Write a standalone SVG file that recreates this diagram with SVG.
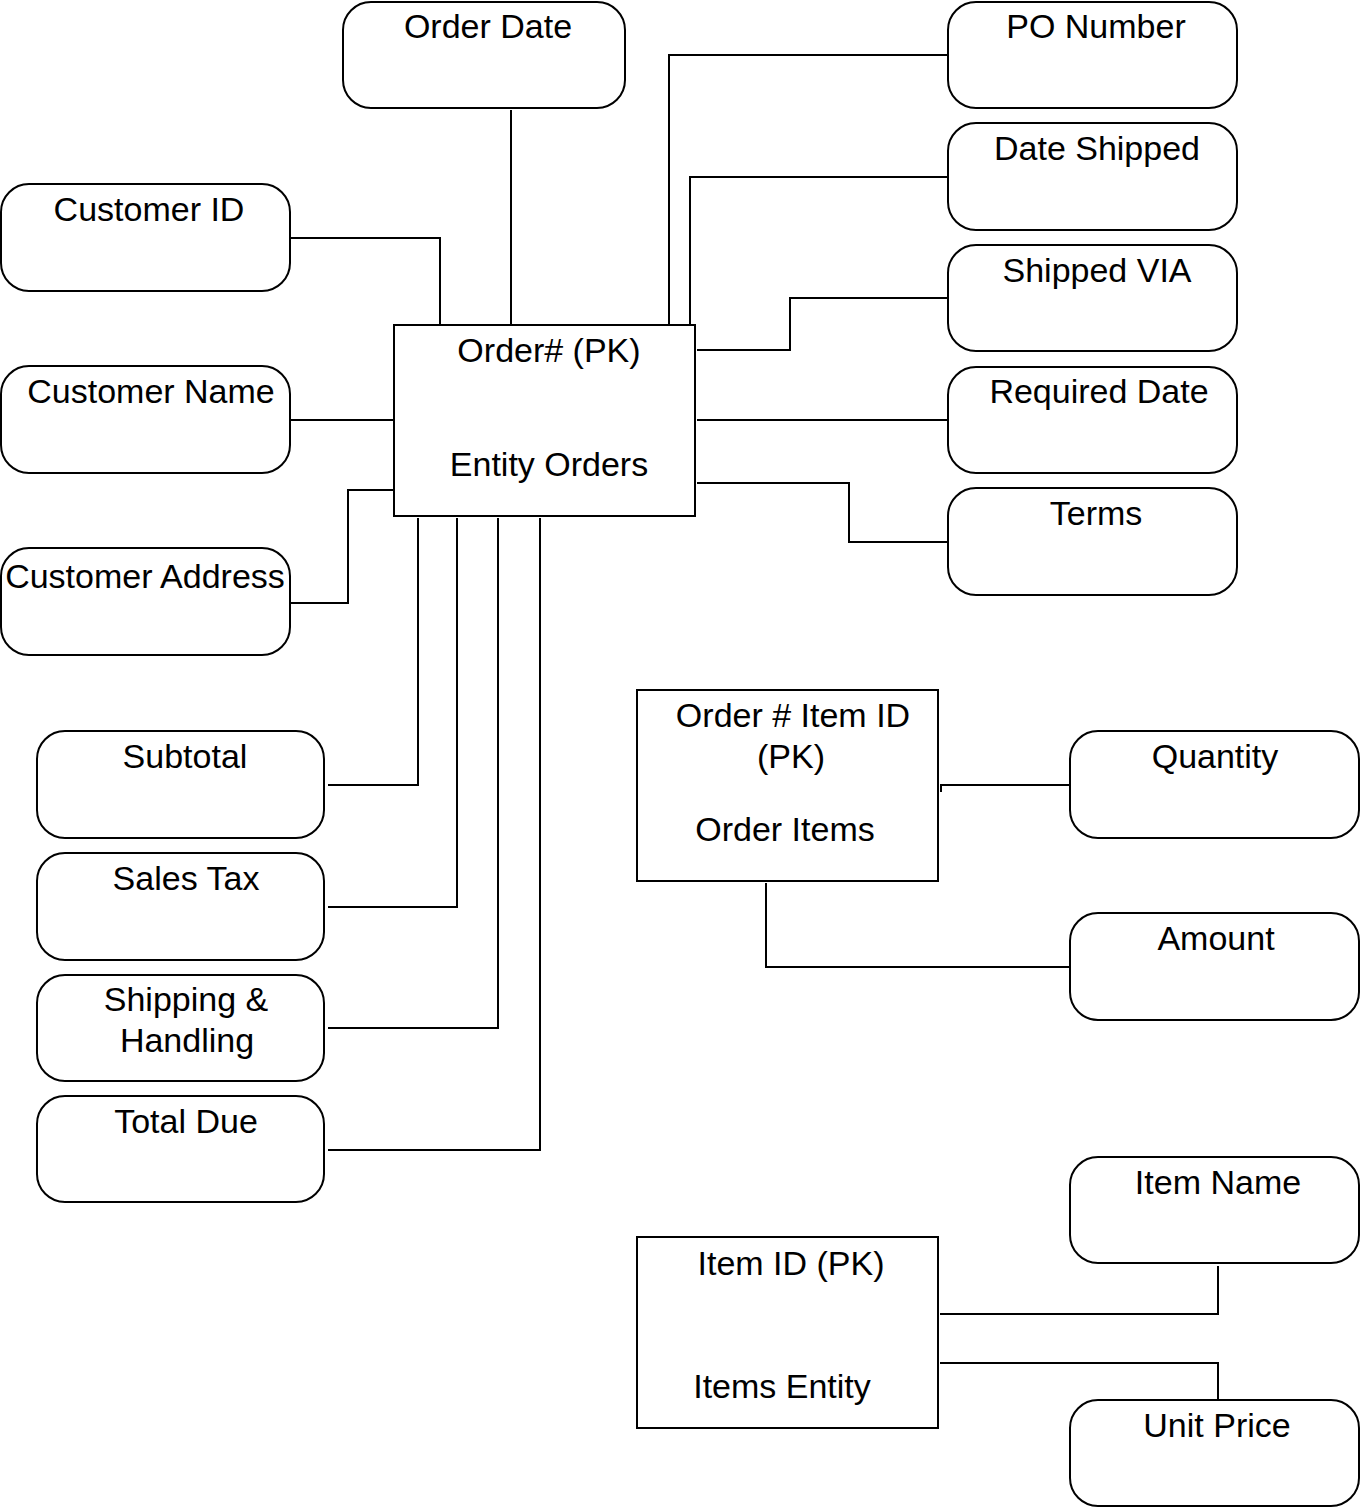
<svg xmlns="http://www.w3.org/2000/svg" width="1363" height="1508" viewBox="0 0 1363 1508">
<style>
.attr{fill:#fff;stroke:#000;stroke-width:2}
.ent{fill:#fff;stroke:#000;stroke-width:2}
text{font-family:"Liberation Sans",Arial,sans-serif;font-size:34px;fill:#000;text-anchor:middle}
.conn path{fill:none;stroke:#000;stroke-width:2}
</style>
<rect width="1363" height="1508" fill="#fff"/>
<g class="conn" id="connectors">
<path d="M511,110 V325"/>
<path d="M290,238 H440 V325"/>
<path d="M290,420 H394"/>
<path d="M290,603 H348 V490 H394"/>
<path d="M948,55 H669 V325"/>
<path d="M948,177 H690 V325"/>
<path d="M948,298 H790 V350 H697"/>
<path d="M948,420 H697"/>
<path d="M948,542 H849 V483 H697"/>
<path d="M328,785 H418 V518"/>
<path d="M328,907 H457 V518"/>
<path d="M328,1028 H498 V518"/>
<path d="M328,1150 H540 V518"/>
<path d="M1070,785 H941 V792"/>
<path d="M1070,967 H766 V883"/>
<path d="M1218,1266 V1314 H940"/>
<path d="M1218,1400 V1363 H940"/>
</g>
<g id="entity-orders"><rect class="ent" x="394" y="325" width="301" height="191"/><text x="549" y="362">Order# (PK)</text><text x="549" y="476">Entity Orders</text></g>
<g id="entity-order-items"><rect class="ent" x="637" y="690" width="301" height="191"/><text x="793" y="727">Order # Item ID</text><text x="791" y="768">(PK)</text><text x="785" y="841">Order Items</text></g>
<g id="entity-items"><rect class="ent" x="637" y="1237" width="301" height="191"/><text x="791" y="1275">Item ID (PK)</text><text x="782" y="1398">Items Entity</text></g>
<g id="order-date"><rect class="attr" x="343" y="2" width="282" height="106" rx="28"/><text x="488" y="38">Order Date</text></g>
<g id="po-number"><rect class="attr" x="948" y="2" width="289" height="106" rx="28"/><text x="1096" y="38">PO Number</text></g>
<g id="date-shipped"><rect class="attr" x="948" y="123" width="289" height="107" rx="28"/><text x="1097" y="160">Date Shipped</text></g>
<g id="shipped-via"><rect class="attr" x="948" y="245" width="289" height="106" rx="28"/><text x="1097" y="282">Shipped VIA</text></g>
<g id="required-date"><rect class="attr" x="948" y="367" width="289" height="106" rx="28"/><text x="1099" y="403">Required Date</text></g>
<g id="terms"><rect class="attr" x="948" y="488" width="289" height="107" rx="28"/><text x="1096" y="525">Terms</text></g>
<g id="customer-id"><rect class="attr" x="1" y="184" width="289" height="107" rx="28"/><text x="149" y="221">Customer ID</text></g>
<g id="customer-name"><rect class="attr" x="1" y="366" width="289" height="107" rx="28"/><text x="151" y="403">Customer Name</text></g>
<g id="customer-address"><rect class="attr" x="1" y="548" width="289" height="107" rx="28"/><text x="145" y="588">Customer Address</text></g>
<g id="subtotal"><rect class="attr" x="37" y="731" width="287" height="107" rx="28"/><text x="185" y="768">Subtotal</text></g>
<g id="sales-tax"><rect class="attr" x="37" y="853" width="287" height="107" rx="28"/><text x="186" y="890">Sales Tax</text></g>
<g id="shipping-handling"><rect class="attr" x="37" y="975" width="287" height="106" rx="28"/><text x="186" y="1011">Shipping &amp;</text><text x="187" y="1052">Handling</text></g>
<g id="total-due"><rect class="attr" x="37" y="1096" width="287" height="106" rx="28"/><text x="186" y="1133">Total Due</text></g>
<g id="quantity"><rect class="attr" x="1070" y="731" width="289" height="107" rx="28"/><text x="1215" y="768">Quantity</text></g>
<g id="amount"><rect class="attr" x="1070" y="913" width="289" height="107" rx="28"/><text x="1216" y="950">Amount</text></g>
<g id="item-name"><rect class="attr" x="1070" y="1157" width="289" height="106" rx="28"/><text x="1218" y="1194">Item Name</text></g>
<g id="unit-price"><rect class="attr" x="1070" y="1400" width="289" height="106" rx="28"/><text x="1217" y="1437">Unit Price</text></g>
</svg>
